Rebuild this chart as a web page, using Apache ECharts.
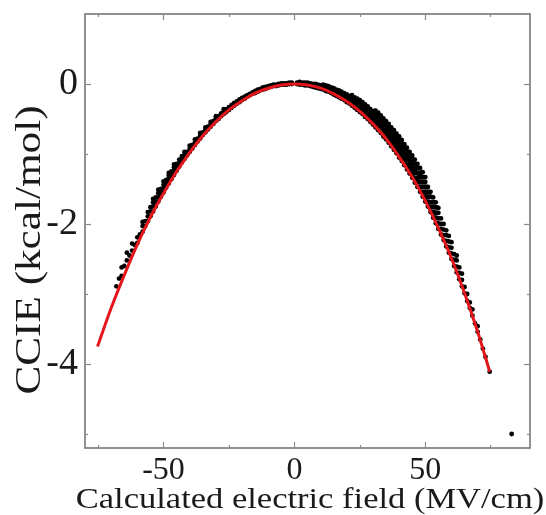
<!DOCTYPE html>
<html lang="en">
<head>
<meta charset="UTF-8">
<title>CCIE vs electric field</title>
<script src="https://cdn.jsdelivr.net/npm/echarts@6/dist/echarts.min.js"></script>
<style>
	html,body{margin:0;padding:0;background:#fff;}
	#chart{width:546px;height:515px;}
</style>
</head>
<body>
<div id="chart"></div>
<script>
	// tick positions
	var xMajor = [-50, 0, 50];
	var xMinor = [-75, -25, 25, 75];
	var yMajor = [0, -2, -4];
	var yMinor = [-1, -3, -5];

	// fitted curve (red)
	var fitX = [-75.2, -70, -65, -60, -55, -50, -45, -40, -35, -30, -25, -20, -15, -10, -5, 0,
		5, 10, 15, 20, 25, 30, 35, 40, 45, 50, 55, 60, 65, 70, 74.6];
	var fitY = [-3.75, -3.20, -2.73, -2.29, -1.90, -1.56, -1.25, -0.98, -0.74, -0.54, -0.37, -0.24, -0.13, -0.06, -0.015, 0,
		-0.015, -0.06, -0.14, -0.25, -0.39, -0.57, -0.78, -1.04, -1.33, -1.67, -2.06, -2.49, -2.99, -3.54, -4.11];

	// scatter dots, one row per field value: [x, y, y, ...]
	var dotsLeft = [
		[-1, 0.00, 0.02], [-2, 0.00, 0.02], [-3, -0.01, 0.01], [-4, -0.01, 0.01], [-5, -0.01, 0.01],
		[-6, -0.02, 0.00], [-7, -0.03, -0.01], [-8, -0.03, -0.01], [-9, -0.04, -0.02], [-10, -0.05, -0.03],
		[-11, -0.07, -0.04], [-12, -0.08, -0.05], [-13, -0.09, -0.07], [-14, -0.11, -0.08], [-15, -0.13, -0.10],
		[-16, -0.14, -0.12], [-17, -0.16, -0.14], [-18, -0.18, -0.16], [-19, -0.21, -0.18], [-20, -0.23, -0.20],
		[-21, -0.26, -0.22], [-22, -0.28, -0.25], [-23, -0.31, -0.27], [-24, -0.34, -0.30], [-25, -0.37, -0.33],
		[-26, -0.40, -0.36], [-27, -0.43, -0.39, -0.36], [-28, -0.46, -0.42], [-29, -0.50, -0.46], [-30, -0.53, -0.49, -0.46],
		[-31, -0.57, -0.53], [-32, -0.61, -0.57, -0.54], [-33, -0.65, -0.61], [-34, -0.69, -0.65, -0.62], [-35, -0.73, -0.69],
		[-36, -0.78, -0.74, -0.70], [-37, -0.82, -0.78], [-38, -0.87, -0.83, -0.79], [-39, -0.92, -0.87], [-40, -0.97, -0.92, -0.88],
		[-41, -1.02, -0.97], [-42, -1.07, -1.02, -0.97], [-43, -1.12, -1.07, -1.03], [-44, -1.18, -1.13, -1.08], [-45, -1.24, -1.19, -1.14],
		[-46, -1.30, -1.24, -1.19, -1.15], [-47, -1.36, -1.30, -1.25], [-48, -1.42, -1.36, -1.31, -1.27], [-49, -1.48, -1.43, -1.37],
		[-50, -1.55, -1.49, -1.44, -1.39], [-51, -1.61, -1.55, -1.50], [-52, -1.68, -1.62, -1.56, -1.51], [-53, -1.75, -1.68, -1.62],
		[-54, -1.82, -1.75, -1.69, -1.64], [-55, -1.89, -1.82, -1.76], [-56, -1.96, -1.89, -1.83], [-57, -2.03, -1.96],
		[-58, -2.11, -2.03, -1.97], [-59, -2.15], [-60, -2.27, -2.19], [-61, -2.30], [-62, -2.38, -2.28], [-63, -2.45],
		[-64, -2.52, -2.41], [-65, -2.60], [-66, -2.62, -2.74], [-67, -2.78], [-68, -2.89]
	];
	var dotsRight = [
		[1, 0.00, 0.02], [2, -0.01, 0.01, 0.03], [3, -0.01, 0.02], [4, -0.02, 0.00, 0.02], [5, -0.02, 0.00, 0.02],
		[6, -0.03, -0.01, 0.01], [7, -0.04, -0.02, 0.00], [8, -0.05, -0.02, 0.00], [9, -0.06, -0.03, -0.01], [10, -0.07, -0.04, -0.02],
		[11, -0.08, -0.05, -0.03, -0.01], [12, -0.10, -0.07, -0.04, -0.02], [13, -0.11, -0.08, -0.05, -0.03], [14, -0.13, -0.10, -0.07, -0.05],
		[15, -0.15, -0.11, -0.08, -0.06], [16, -0.17, -0.13, -0.10, -0.08], [17, -0.19, -0.15, -0.12, -0.09], [18, -0.21, -0.17, -0.14, -0.11],
		[19, -0.23, -0.19, -0.16, -0.13], [20, -0.26, -0.22, -0.18, -0.15], [21, -0.28, -0.24, -0.20, -0.17],
		[22, -0.31, -0.27, -0.23, -0.19, -0.16], [23, -0.34, -0.30, -0.26, -0.22, -0.19], [24, -0.37, -0.33, -0.29, -0.25, -0.21],
		[25, -0.40, -0.36, -0.31, -0.27, -0.23], [26, -0.43, -0.39, -0.35, -0.30, -0.26], [27, -0.47, -0.42, -0.38, -0.33, -0.29],
		[28, -0.50, -0.46, -0.41, -0.37, -0.32], [29, -0.54, -0.49, -0.45, -0.40, -0.36], [30, -0.58, -0.53, -0.48, -0.44, -0.39],
		[31, -0.62, -0.57, -0.52, -0.47, -0.42, -0.38], [32, -0.66, -0.61, -0.56, -0.51, -0.46, -0.41],
		[33, -0.70, -0.65, -0.60, -0.55, -0.50, -0.45], [34, -0.75, -0.69, -0.64, -0.59, -0.54, -0.49],
		[35, -0.79, -0.74, -0.69, -0.63, -0.58, -0.53], [36, -0.84, -0.79, -0.73, -0.68, -0.62, -0.57],
		[37, -0.89, -0.83, -0.78, -0.72, -0.67, -0.62], [38, -0.94, -0.88, -0.83, -0.77, -0.71, -0.66],
		[39, -0.99, -0.94, -0.88, -0.82, -0.76, -0.71], [40, -1.05, -0.99, -0.93, -0.87, -0.81, -0.75],
		[41, -1.10, -1.04, -0.98, -0.92, -0.86, -0.80], [42, -1.16, -1.10, -1.04, -0.98, -0.92, -0.86],
		[43, -1.22, -1.16, -1.09, -1.03, -0.97, -0.91], [44, -1.28, -1.22, -1.15, -1.09, -1.03, -0.97],
		[45, -1.34, -1.28, -1.21, -1.15, -1.08, -1.02], [46, -1.41, -1.34, -1.27, -1.21, -1.14, -1.08],
		[47, -1.47, -1.40, -1.34, -1.27, -1.20, -1.14], [48, -1.54, -1.47, -1.40, -1.33, -1.27, -1.20],
		[49, -1.61, -1.54, -1.47, -1.40, -1.33, -1.26], [50, -1.68, -1.61, -1.54, -1.47, -1.40, -1.33],
		[51, -1.75, -1.68, -1.61, -1.54, -1.47], [52, -1.83, -1.76, -1.69, -1.61, -1.54], [53, -1.91, -1.83, -1.76, -1.69, -1.62],
		[54, -1.99, -1.91, -1.84, -1.76, -1.69], [55, -2.07, -1.99, -1.92, -1.84, -1.77], [56, -2.15, -2.07, -2.00, -1.92],
		[57, -2.23, -2.16, -2.08, -2.00], [58, -2.32, -2.24, -2.16, -2.09], [59, -2.41, -2.33, -2.25, -2.17],
		[60, -2.50, -2.42, -2.34, -2.26], [61, -2.60, -2.51, -2.43], [62, -2.69, -2.61, -2.52, -2.45], [63, -2.79, -2.70, -2.62],
		[64, -2.89, -2.80, -2.71], [65, -2.99, -2.90], [66, -3.10, -3.00], [67, -3.20, -3.12], [68, -3.31, -3.22], [69, -3.42],
		[70, -3.54, -3.46], [71, -3.65], [72, -3.78], [73, -3.90], [74.6, -4.11]
	];
	// extra dots between the rows where the band is thickest
	var dotsRightMid = [
		[22.5, -0.305, -0.265, -0.225, -0.19], [23.5, -0.335, -0.295, -0.255, -0.22], [24.5, -0.365, -0.32, -0.28, -0.24],
		[25.5, -0.395, -0.35, -0.31, -0.265], [26.5, -0.43, -0.385, -0.34, -0.295], [27.5, -0.46, -0.42, -0.37, -0.33],
		[28.5, -0.50, -0.45, -0.41, -0.36], [29.5, -0.535, -0.49, -0.44, -0.40], [30.5, -0.575, -0.525, -0.48, -0.43, -0.385],
		[31.5, -0.615, -0.565, -0.515, -0.465, -0.42], [32.5, -0.655, -0.605, -0.555, -0.505, -0.455],
		[33.5, -0.70, -0.645, -0.595, -0.545, -0.495], [34.5, -0.74, -0.69, -0.64, -0.585, -0.535],
		[35.5, -0.79, -0.74, -0.68, -0.63, -0.575], [36.5, -0.84, -0.78, -0.73, -0.67, -0.62],
		[37.5, -0.885, -0.83, -0.775, -0.72, -0.665], [38.5, -0.94, -0.88, -0.825, -0.765, -0.71],
		[39.5, -0.99, -0.935, -0.875, -0.815, -0.76], [40.5, -1.045, -0.985, -0.925, -0.865, -0.805],
		[41.5, -1.10, -1.04, -0.98, -0.92, -0.86], [42.5, -1.16, -1.10, -1.035, -0.975, -0.915],
		[43.5, -1.22, -1.155, -1.09, -1.03, -0.97], [44.5, -1.28, -1.215, -1.15, -1.09, -1.025],
		[45.5, -1.34, -1.275, -1.21, -1.145, -1.08], [46.5, -1.405, -1.34, -1.27, -1.205, -1.14],
		[47.5, -1.47, -1.40, -1.335, -1.27, -1.20], [48.5, -1.54, -1.47, -1.40, -1.33, -1.265],
		[49.5, -1.61, -1.54, -1.47, -1.40, -1.33], [50.5, -1.68, -1.61, -1.54, -1.47],
		[51.5, -1.755, -1.685, -1.61, -1.54], [52.5, -1.83, -1.76, -1.69, -1.615],
		[53.5, -1.91, -1.835, -1.76, -1.69], [54.5, -1.99, -1.915, -1.84, -1.765]
	];
	var outliers = [[83, -5.0]];

	var xTitle = 'Calculated electric field (MV/cm)';
	var yTitle = 'CCIE (kcal/mol)';

	var fontName = "'Liberation Serif', 'Times New Roman', serif";
	var frameColor = '#8a8a8a';
	var textColor = '#1a1a1a';

	function rowsToPoints(rows){
		var pts = [];
		for(var i=0;i<rows.length;i++){
			for(var j=1;j<rows[i].length;j++){
				pts.push([rows[i][0], rows[i][j]]);
			}
		}
		return pts;
	}
	var dotData = rowsToPoints(dotsLeft).concat(rowsToPoints(dotsRight))
		.concat(rowsToPoints(dotsRightMid)).concat(outliers);
	var fitData = [];
	for(var k=0;k<fitX.length;k++){
		fitData.push([fitX[k], fitY[k]]);
	}

	function xAxisDef(pos, ticks, len, labels){
		return {
			type: 'value', min: -80, max: 90, position: pos,
			axisLine: {show: true, onZero: false, lineStyle: {color: frameColor, width: 1.5}},
			axisTick: {show: true, inside: true, length: len, customValues: ticks, lineStyle: {color: frameColor, width: 1.2}},
			axisLabel: labels ? {show: true, customValues: ticks, margin: 7, fontFamily: fontName, fontSize: 32, color: textColor} : {show: false},
			splitLine: {show: false}
		};
	}
	function yAxisDef(pos, ticks, len, labels){
		return {
			type: 'value', min: -5.2, max: 1, position: pos,
			axisLine: {show: true, onZero: false, lineStyle: {color: frameColor, width: 1.5}},
			axisTick: {show: true, inside: true, length: len, customValues: ticks, lineStyle: {color: frameColor, width: 1.2}},
			axisLabel: labels ? {show: true, customValues: ticks, margin: 7, fontFamily: fontName, fontSize: 38, color: textColor} : {show: false},
			splitLine: {show: false}
		};
	}

	var myChart = echarts.init(document.getElementById('chart'), null, {renderer: 'canvas'});
	var option = {
		backgroundColor: '#fff',
		animation: false,
		grid: {left: 85, right: 16, top: 14, bottom: 67, containLabel: false, outerBoundsMode: 'none'},
		// axis titles as stretched text, the source figure's lettering is wider than Liberation Serif
		graphic: [
			{
				type: 'text', x: 310, y: 500, scaleX: 1.15,
				style: {text: xTitle, fontFamily: fontName, fontSize: 30, fill: textColor, align: 'center', verticalAlign: 'middle'}
			},
			{
				type: 'text', x: 31, y: 250, rotation: Math.PI / 2, scaleX: 1.2,
				style: {text: yTitle, fontFamily: fontName, fontSize: 36, fill: textColor, align: 'center', verticalAlign: 'middle'}
			}
		],
		xAxis: [
			xAxisDef('bottom', xMajor, 6, true),
			xAxisDef('bottom', xMinor, 3, false),
			xAxisDef('top', xMajor, 6, false),
			xAxisDef('top', xMinor, 3, false)
		],
		yAxis: [
			yAxisDef('left', yMajor, 6, true),
			yAxisDef('left', yMinor, 3, false),
			yAxisDef('right', yMajor, 6, false),
			yAxisDef('right', yMinor, 3, false)
		],
		series: [
			{
				type: 'scatter', xAxisIndex: 0, yAxisIndex: 0,
				symbol: 'circle', symbolSize: 4.8,
				itemStyle: {color: '#000', opacity: 1},
				data: dotData
			},
			{
				type: 'line', xAxisIndex: 0, yAxisIndex: 0,
				smooth: 0.3, showSymbol: false,
				lineStyle: {color: '#e3161b', width: 3},
				data: fitData
			}
		]
	};
	myChart.setOption(option);
</script>
</body>
</html>
